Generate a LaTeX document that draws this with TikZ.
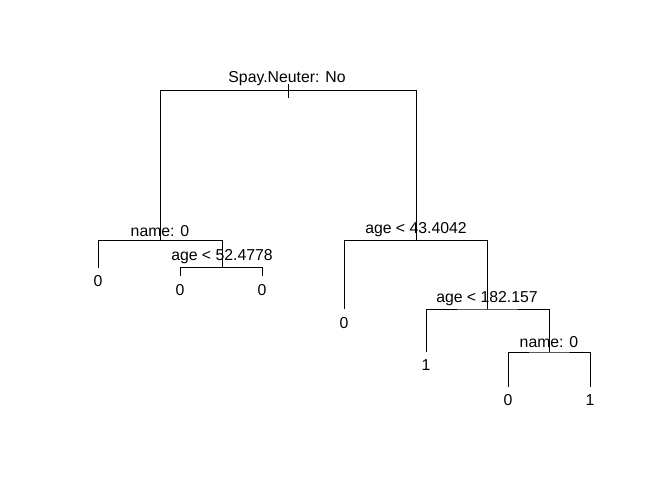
\documentclass[tikz,border=0pt]{standalone}
\usepackage{fontspec}
\setmainfont{Liberation Sans}
\begin{document}
\begin{tikzpicture}[x=1pt,y=-1pt,
  edge/.style={line width=1.0pt, black},
  lab/.style={inner sep=0pt, anchor=base, font=\fontsize{15.8}{18}\selectfont},
  pt/.style={inner sep=0pt, minimum size=0pt}]
\useasboundingbox (0,0) rectangle (650,497);
% split points and leaves
\coordinate (r)  at (288,90.3);
\coordinate (rt) at (288,84);
\coordinate (rb) at (288,98);
\coordinate (a)  at (160,240.7);
\coordinate (b)  at (416,240.7);
\coordinate (l1) at (98,268);
\coordinate (c)  at (222,267.5);
\coordinate (l2) at (180,276);
\coordinate (l3) at (262,276);
\coordinate (l4) at (344,309);
\coordinate (d)  at (487,309);
\coordinate (l5) at (426,352);
\coordinate (e)  at (549,352);
\coordinate (l6) at (508,387);
\coordinate (l7) at (590,387);
% branches
\draw[edge] (rt) -- (rb);
\draw[edge] (a) |- (r) -| (b);
\draw[edge] (l1) |- (a) -| (c);
\draw[edge] (l2) |- (c) -| (l3);
\draw[edge] (l4) |- (b) -| (d);
\draw[edge] (l5) |- (d) -| (e);
\draw[edge] (l6) |- (e) -| (l7);
% split labels
\node[lab] (tr) at (287,83) {Spay.Neuter: No};
\node[lab] (ta) at (160,236.3) {name: 0};
\node[lab] (tc) at (222,260.6) {age < 52.4778};
\node[lab] (tb) at (416,233.4) {age < 43.4042};
\node[lab] (td) at (487,302) {age < 182.157};
\node[lab] (te) at (549,347) {name: 0};
% leaf labels
\node[lab] (t1) at (98,286) {0};
\node[lab] (t2) at (180,295) {0};
\node[lab] (t3) at (262,295) {0};
\node[lab] (t4) at (344,328) {0};
\node[lab] (t5) at (426,370.5) {1};
\node[lab] (t6) at (508,405) {0};
\node[lab] (t7) at (590,405) {1};
\end{tikzpicture}
\end{document}
